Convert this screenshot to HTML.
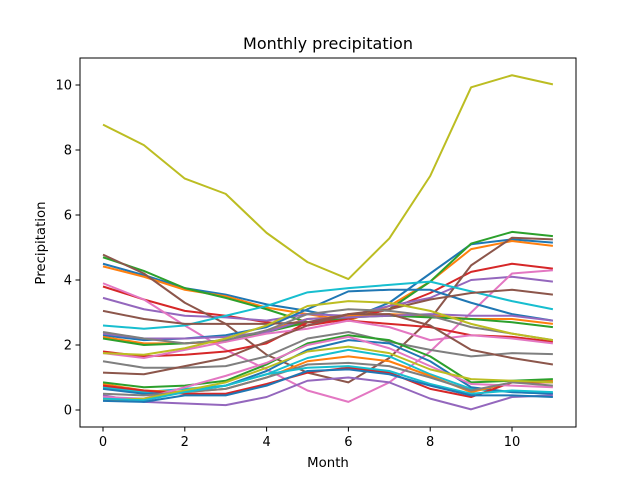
<!DOCTYPE html>
<html><head><meta charset="utf-8"><style>
body{margin:0;background:#fff;font-family:"Liberation Sans","DejaVu Sans",sans-serif}
svg text{font-family:"DejaVu Sans","Liberation Sans",sans-serif;fill:#000}
</style></head><body>
<svg id="chart" width="640" height="480" xmlns="http://www.w3.org/2000/svg">
<rect width="640" height="480" fill="#fff"/>
<g id="plot"></g>
<rect x="80" y="58" width="496" height="369" fill="none" stroke="#000" stroke-width="1"/>
<g id="xt"></g>
<g id="yt"></g>
<text x="328" y="49" font-size="16" text-anchor="middle">Monthly precipitation</text>
<text x="328" y="467" font-size="13.3" text-anchor="middle">Month</text>
<text x="45" y="243" font-size="13.3" text-anchor="middle" transform="rotate(-90 45 243)">Precipitation</text>
</svg>
<script>
const months=[0,1,2,3,4,5,6,7,8,9,10,11];
const xTicks=[0,2,4,6,8,10];
const yTicks=[0,2,4,6,8,10];
const s1=[4.5,4.15,3.75,3.55,3.25,3.05,2.8,3.3,4.2,5.1,5.25,5.15];
const s2=[4.42,4.1,3.7,3.5,3.15,2.95,2.75,3.2,3.95,4.95,5.2,5.05];
const s3=[4.7,4.28,3.75,3.45,3.1,2.7,2.8,3.1,3.95,5.12,5.48,5.35];
const s4=[3.8,3.4,3.05,2.9,2.7,2.6,2.8,3.1,3.6,4.25,4.5,4.35];
const s5=[3.45,3.1,2.9,2.85,2.75,2.95,2.9,3.2,3.45,4.0,4.1,3.95];
const s6=[4.78,4.2,3.3,2.65,1.7,1.15,0.85,1.6,2.8,4.45,5.3,5.25];
const s7=[3.9,3.4,2.6,1.85,1.25,0.6,0.25,0.85,1.8,3.0,4.2,4.3];
const s8=[1.5,1.3,1.3,1.35,1.65,2.2,2.4,2.1,1.85,1.65,1.75,1.72];
const s9=[8.78,8.15,7.12,6.65,5.45,4.55,4.03,5.28,7.2,9.93,10.3,10.02];
const s10=[2.6,2.5,2.6,2.9,3.2,3.62,3.75,3.85,3.95,3.65,3.35,3.1];
const s11=[2.3,2.15,2.2,2.3,2.55,3.1,3.65,3.7,3.7,3.3,2.95,2.75];
const s12=[2.25,2.05,2.05,2.1,2.45,2.8,2.9,2.95,2.9,2.8,2.8,2.65];
const s13=[2.2,2.0,2.05,2.15,2.4,2.7,2.85,2.9,2.85,2.8,2.7,2.55];
const s14=[1.8,1.65,1.7,1.8,2.05,2.7,2.75,2.65,2.55,2.3,2.25,2.1];
const s15=[2.35,2.2,2.2,2.25,2.4,2.8,2.85,2.9,2.95,2.9,2.9,2.75];
const s16=[3.05,2.8,2.65,2.65,2.65,2.7,2.95,3.1,3.4,3.6,3.7,3.55];
const s17=[1.75,1.6,1.85,2.1,2.35,2.5,2.75,2.55,2.15,2.3,2.2,2.05];
const s18=[2.4,2.2,2.05,2.15,2.45,2.95,3.1,3.05,2.9,2.55,2.35,2.15];
const s19=[1.75,1.7,1.9,2.2,2.6,3.2,3.35,3.3,3.05,2.65,2.35,2.15];
const s20=[0.7,0.55,0.65,0.75,1.1,1.6,1.85,1.65,1.1,0.65,0.55,0.5];
const s21=[0.65,0.5,0.55,0.75,1.2,1.85,2.15,2.05,1.5,0.7,0.55,0.5];
const s22=[0.8,0.6,0.55,0.65,1.0,1.5,1.65,1.5,1.05,0.55,0.85,0.9];
const s23=[0.85,0.7,0.75,0.9,1.4,2.05,2.3,2.15,1.65,0.85,0.9,0.95];
const s24=[0.75,0.6,0.5,0.5,0.8,1.15,1.3,1.15,0.65,0.4,0.85,0.85];
const s25=[0.45,0.25,0.2,0.15,0.4,0.9,1.0,0.85,0.35,0.02,0.4,0.45];
const s26=[1.15,1.1,1.35,1.6,2.1,2.6,2.95,2.95,2.6,1.85,1.6,1.4];
const s27=[0.4,0.35,0.7,1.05,1.45,2.0,2.25,1.9,1.35,0.8,0.75,0.7];
const s28=[0.5,0.45,0.55,0.65,1.0,1.4,1.45,1.35,1.0,0.6,0.85,0.75];
const s29=[0.3,0.35,0.6,0.85,1.3,1.8,1.95,1.75,1.25,0.95,0.9,0.85];
const s30=[0.35,0.3,0.55,0.75,1.1,1.3,1.35,1.2,0.8,0.5,0.6,0.55];
const s31=[0.28,0.25,0.45,0.45,0.75,1.2,1.25,1.1,0.75,0.45,0.45,0.4];
const series=[s1,s2,s3,s4,s5,s6,s7,s8,s9,s10,s11,s12,s13,s14,s15,s16,s17,s18,s19,s20,s21,s22,s23,s24,s25,s26,s27,s28,s29,s30,s31];
const colors=["#1f77b4","#ff7f0e","#2ca02c","#d62728","#9467bd","#8c564b","#e377c2","#7f7f7f","#bcbd22","#17becf"];
const NS="http://www.w3.org/2000/svg";
const xs=v=>103+v*40.9;
const ys=v=>410-v*32.5;
const plot=document.getElementById('plot');
series.forEach((s,i)=>{
  const p=document.createElementNS(NS,'polyline');
  
  
  p.setAttribute('points',s.map((v,j)=>xs(months[j])+','+ys(v)).join(' '));
  p.setAttribute('fill','none');
  p.setAttribute('stroke',colors[i%10]);
  p.setAttribute('stroke-width','2');
  p.setAttribute('stroke-linejoin','round');
  plot.appendChild(p);
});
const xt=document.getElementById('xt');
xTicks.forEach(t=>{
  const l=document.createElementNS(NS,'line');
  
  
  l.setAttribute('x1',xs(t));l.setAttribute('x2',xs(t));l.setAttribute('y1',427);l.setAttribute('y2',431.5);
  l.setAttribute('stroke','#000');
  xt.appendChild(l);
  const tx=document.createElementNS(NS,'text');
  
  
  tx.setAttribute('x',xs(t));tx.setAttribute('y',446);tx.setAttribute('font-size','13');tx.setAttribute('text-anchor','middle');
  tx.textContent=t;
  xt.appendChild(tx);
});
const yt=document.getElementById('yt');
yTicks.forEach(t=>{
  const l=document.createElementNS(NS,'line');
  
  
  l.setAttribute('x1',75.5);l.setAttribute('x2',80);l.setAttribute('y1',ys(t));l.setAttribute('y2',ys(t));
  l.setAttribute('stroke','#000');
  yt.appendChild(l);
  const tx=document.createElementNS(NS,'text');
  
  
  tx.setAttribute('x',72);tx.setAttribute('y',ys(t)+4.5);tx.setAttribute('font-size','13');tx.setAttribute('text-anchor','end');
  tx.textContent=t;
  yt.appendChild(tx);
});
</script>
</body></html>
